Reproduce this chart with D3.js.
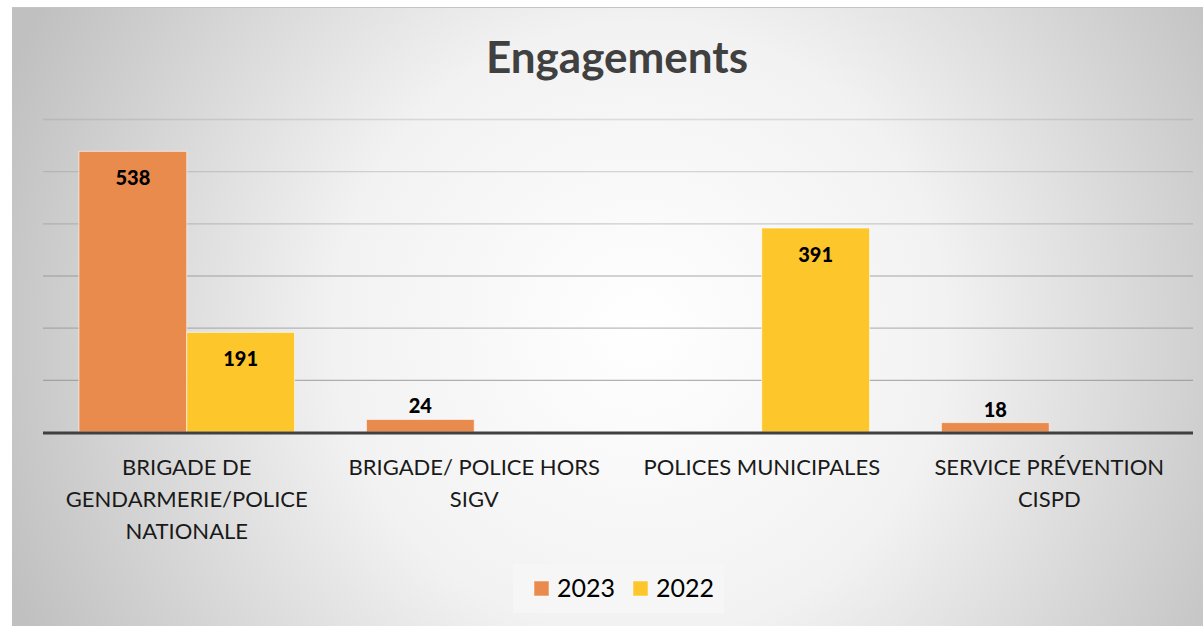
<!DOCTYPE html>
<html>
<head>
<meta charset="utf-8">
<script src="https://cdn.jsdelivr.net/npm/d3@7"></script>
<style>
  body { margin: 0; background: #fff; }
  svg { display: block; }
</style>
</head>
<body>
<div id="chart"></div>
<script>
// data
const categories = [
    "BRIGADE DE GENDARMERIE/POLICE NATIONALE",
    "BRIGADE/ POLICE HORS SIGV",
    "POLICES MUNICIPALES",
    "SERVICE PRÉVENTION CISPD"
];
const seriesNames = ["2023", "2022"];
const values2023 = [538, 24, null, 18];
const values2022 = [191, null, 391, null];
const yTicks = [0, 100, 200, 300, 400, 500, 600];

const W = 1203, H = 626;
const colors = {"2023": "#E98B4C", "2022": "#FDC62B"};
const font = "Lato, 'Open Sans', sans-serif";

var svg = d3.select("#chart").append("svg")
    .attr("width", W)
    .attr("height", H);

// background gradient of the chart area
var defs = svg.append("defs");
var grad = defs.append("radialGradient")
    .attr("id", "bg")
    .attr("gradientUnits", "userSpaceOnUse")
    .attr("cx", 640).attr("cy", 330).attr("r", 680);
grad.append("stop").attr("offset", "0%").attr("stop-color", "#ffffff");
grad.append("stop").attr("offset", "45%").attr("stop-color", "#f2f2f2");
grad.append("stop").attr("offset", "100%").attr("stop-color", "#c0c0c0");

svg.append("rect")
    .attr("x", 12).attr("y", 7)
    .attr("width", W - 12).attr("height", H - 7)
    .attr("fill", "url(#bg)");
svg.append("line")
    .attr("x1", 12).attr("x2", W)
    .attr("y1", 7.5).attr("y2", 7.5)
    .attr("stroke", "#c4c4c4");

var margin = {left: 43, right: 10, top: 119, bottom: 194};
var plotW = W - margin.left - margin.right;
var plotH = H - margin.top - margin.bottom;

var g = svg.append("g")
    .attr("transform", "translate(" + margin.left + "," + margin.top + ")");

var x0 = d3.scaleBand()
    .domain(categories)
    .range([0, plotW])
    .paddingInner(0.25)
    .paddingOuter(0.125);
var x1 = d3.scaleBand()
    .domain(seriesNames)
    .range([0, x0.bandwidth()]);
var y = d3.scaleLinear()
    .domain([0, 600])
    .range([plotH, 0]);

// gridlines
var grid = g.append("g")
    .call(d3.axisLeft(y).tickValues(yTicks.slice(1)).tickSize(-plotW).tickFormat(""));
grid.select(".domain").remove();
grid.selectAll(".tick line")
    .attr("stroke", "#8c8c8c")
    .attr("stroke-opacity", function (d) { return 0.75 - d / 1200; })
    .attr("stroke-width", 1.3);

// bars
var rows = [];
categories.forEach(function (c, i) {
    rows.push({cat: c, s: "2023", v: values2023[i]});
    rows.push({cat: c, s: "2022", v: values2022[i]});
});
rows = rows.filter(function (d) { return d.v != null; });

g.selectAll("rect.bar")
    .data(rows)
    .enter()
    .append("rect")
    .attr("class", "bar")
    .attr("x", function (d) { return x0(d.cat) + x1(d.s); })
    .attr("y", function (d) { return y(d.v); })
    .attr("width", x1.bandwidth())
    .attr("height", function (d) { return y(0) - y(d.v); })
    .attr("fill", function (d) { return colors[d.s]; })
    .attr("stroke", "#ffffff")
    .attr("stroke-opacity", 0.6)
    .attr("stroke-width", 1);

// data labels: inside end when there is room, above otherwise
g.selectAll("text.val")
    .data(rows)
    .enter()
    .append("text")
    .attr("class", "val")
    .attr("x", function (d) { return x0(d.cat) + x1(d.s) + x1.bandwidth() / 2; })
    .attr("y", function (d) {
        var h = y(0) - y(d.v);
        return h > 40 ? y(d.v) + 34 : y(d.v) - 6;
    })
    .attr("text-anchor", "middle")
    .style("font-family", font)
    .style("font-weight", "900")
    .style("font-size", "20px")
    .attr("fill", "#000")
    .text(function (d) { return d.v; });

// baseline
g.append("line")
    .attr("x1", 0).attr("x2", plotW)
    .attr("y1", y(0) + 1).attr("y2", y(0) + 1)
    .attr("stroke", "#404040")
    .attr("stroke-width", 3);

// category labels
var xAxis = g.append("g")
    .attr("transform", "translate(0," + plotH + ")")
    .call(d3.axisBottom(x0).tickSize(0).tickPadding(0));
xAxis.select(".domain").remove();
xAxis.selectAll("text")
    .style("font-family", font)
    .style("font-size", "22px")
    .attr("fill", "#1a1a1a")
    .attr("y", 43)
    .attr("dy", 0)
    .call(wrap, 280);

function wrap(texts, width) {
    texts.each(function () {
        var text = d3.select(this);
        var words = text.text().split(/\s+/);
        var yy = text.attr("y");
        var line = [];
        var lineNo = 0;
        text.text(null);
        var tspan = text.append("tspan").attr("x", 0).attr("y", yy);
        words.forEach(function (w) {
            line.push(w);
            tspan.text(line.join(" "));
            if (tspan.node().getComputedTextLength() > width && line.length > 1) {
                line.pop();
                tspan.text(line.join(" "));
                line = [w];
                lineNo++;
                tspan = text.append("tspan").attr("x", 0).attr("y", +yy + lineNo * 32).text(w);
            }
        });
    });
}

// title
svg.append("text")
    .attr("x", 617)
    .attr("y", 73)
    .attr("text-anchor", "middle")
    .style("font-family", font)
    .style("font-weight", "bold")
    .style("font-size", "44px")
    .attr("fill", "#404040")
    .text("Engagements");

// legend
var legend = svg.append("g");
legend.append("rect")
    .attr("x", 513).attr("y", 564)
    .attr("width", 211).attr("height", 49)
    .attr("fill", "#f6f6f6");
var legendX = [534, 633];
seriesNames.forEach(function (s, i) {
    legend.append("rect")
        .attr("x", legendX[i]).attr("y", 581)
        .attr("width", 15).attr("height", 15)
        .attr("fill", colors[s])
        .attr("stroke", "#ffffff")
        .attr("stroke-opacity", 0.5);
    legend.append("text")
        .attr("x", legendX[i] + 23)
        .attr("y", 597)
        .style("font-family", font)
        .style("font-size", "25px")
        .attr("fill", "#000")
        .text(s);
});
</script>
</body>
</html>
